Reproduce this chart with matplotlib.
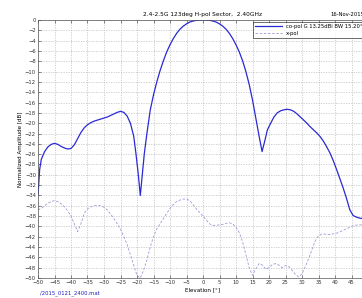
import numpy as np
import matplotlib
matplotlib.use("Agg")
import matplotlib.pyplot as plt

# co-pol pattern (deg, dB)
co_deg = [-50, -49.5, -49, -48, -47, -46, -45, -44, -43, -42, -41, -40, -39, -38, -37, -36,
          -35, -34, -33, -32, -31, -30, -29, -28, -27, -26, -25, -24, -23, -22, -21, -20.3,
          -19.6, -19, -18.4, -17.8, -17, -16, -15, -14, -13, -12, -11, -10, -9, -8, -7, -6,
          -5, -4, -3, -2, -1, 0, 1, 2, 3, 4, 5, 6, 7, 8, 9, 10, 11, 12, 13, 14, 15, 16, 17,
          17.9, 18.7, 19.5, 20.5, 21.5, 22.5, 23.5, 24.5, 25.5, 26.5, 27.5, 28.5, 29.5, 30.5,
          31.5, 32.5, 33.5, 34.5, 35.5, 36.5, 37.5, 38.5, 39.5, 40.5, 41.5, 42.5, 43.5, 44.5,
          45.5, 46.5, 47.5, 48.5, 50]
co_db = [-34, -29, -27, -25.5, -24.6, -24.1, -23.9, -24.1, -24.5, -24.8, -25.0, -24.9, -24.2,
         -23.0, -21.8, -20.9, -20.3, -19.9, -19.6, -19.4, -19.2, -19.0, -18.8, -18.5, -18.2,
         -17.9, -17.7, -17.9, -18.6, -20.0, -22.5, -26, -30, -34, -30, -26, -22, -17.5, -14.5,
         -12, -9.8, -7.9, -6.2, -4.8, -3.6, -2.6, -1.8, -1.2, -0.75, -0.4, -0.2, -0.05, 0, 0,
         0, -0.05, -0.2, -0.4, -0.75, -1.2, -1.8, -2.6, -3.6, -4.8, -6.2, -7.9, -10, -12.5,
         -15.5, -19, -22.5, -25.5, -23.5, -21.3, -20.0, -18.8, -18.0, -17.6, -17.4, -17.3,
         -17.4, -17.7, -18.2, -18.8, -19.4, -20.0, -20.7, -21.3, -21.9, -22.6, -23.5, -24.6,
         -25.8, -27.3, -29, -30.8, -32.6, -34.6, -36.8, -37.9, -38.2, -38.4, -38.5, -38.6]

# x-pol pattern
xp_deg = [-50, -49, -48, -47, -46, -45, -44, -43, -42, -41, -40, -39, -38, -37, -36, -35, -34,
          -33, -32, -31, -30, -29, -28, -27, -26, -25, -24, -23, -22, -21, -20, -19, -18, -17,
          -16, -15, -14, -13, -12, -11, -10, -9, -8, -7, -6, -5, -4, -3, -2, -1, 0, 1, 2, 3,
          4, 5, 6, 7, 8, 9, 10, 11, 12, 13, 14, 15, 16, 17, 18, 19, 20, 21, 22, 23, 24, 25,
          26, 27, 28, 29, 30, 31, 32, 33, 34, 35, 36, 37, 38, 39, 40, 41, 42, 43, 44, 45, 46,
          47, 48, 50]
xp_db = [-36.8, -36.5, -36.0, -35.5, -35.2, -35.0, -35.2, -35.6, -36.2, -37.0, -38.0, -39.5,
         -41, -39.5, -37.5, -36.6, -36.2, -36.0, -35.9, -36.0, -36.3, -36.8, -37.6, -38.5,
         -39.5, -40.5, -42, -43.5, -45.5, -47.5, -49.5, -50, -48.5, -46.5, -44, -42, -40.5,
         -39.5, -38.5, -37.5, -36.5, -35.8, -35.2, -34.9, -34.7, -34.7, -35.0, -35.8, -36.6,
         -37.3, -38, -38.8, -39.5, -39.8, -39.8, -39.7, -39.6, -39.4, -39.3, -39.5, -40.2,
         -41.2, -43, -45.5, -48, -49.5, -48.2, -47.2, -47.5, -48.3, -48, -47.4, -47.2, -47.5,
         -48.0, -47.6, -47.8, -48.5, -49.3, -49.8, -49.2, -47.8, -46.3, -44.5, -42.8, -41.8,
         -41.5, -41.5, -41.6, -41.5, -41.4, -41.2, -40.9, -40.6, -40.3, -40.0, -39.8, -39.7,
         -39.7, -39.6]

xticks = np.arange(-50, 51, 5)
yticks = np.arange(-50, 1, 2)

fs = 3.8
W, H = 362, 298
fig = plt.figure(figsize=(W / 100, H / 100), dpi=100)
ax = fig.add_axes([38 / W, 1 - 278 / H, 330 / W, 258 / H])

ax.plot(co_deg, co_db, color="#2a2ad4", lw=0.9, label="co-pol G 13.25dBi BW 15.20\u00b0")
ax.plot(xp_deg, xp_db, color="#9a9ad6", lw=0.6, ls=(0, (3, 2)), label="x-pol")

ax.set_xlim(-50, 50)
ax.set_ylim(-50, 0)
ax.set_xticks(xticks)
ax.set_yticks(yticks)
ax.tick_params(direction="in", top=True, right=True, length=2.5, width=0.4,
               labelsize=fs, pad=1.5, colors="#333333")
ax.grid(True, ls=(0, (2, 2)), color="#b5b5b5", lw=0.45)
for s in ax.spines.values():
    s.set_linewidth(0.5)
    s.set_color("#555555")

ax.set_title("2.4-2.5G 123deg H-pol Sector,  2.40GHz", fontsize=fs + 0.4, pad=3)
ax.set_xlabel("Elevation [\u00b0]", fontsize=fs + 0.3, labelpad=1.5)
ax.set_ylabel("Normalized Amplitude [dB]", fontsize=fs + 0.3, labelpad=1)

leg = ax.legend(loc="upper left", bbox_to_anchor=((253 - 38) / 330, (278 - 22) / 258),
                fontsize=fs, frameon=True, fancybox=False, handlelength=5,
                borderpad=0.4, labelspacing=0.3, borderaxespad=0)
leg.get_frame().set_edgecolor("black")
leg.get_frame().set_linewidth(0.5)

fig.text(330 / W, 1 - 15 / H, "16-Nov-2015", fontsize=fs, va="center")
fig.text(40 / W, 1 - 293 / H, "/2015_0121_2400.mat", fontsize=fs, color="#2020c0",
         va="center")

fig.savefig("out.png", dpi=100)
